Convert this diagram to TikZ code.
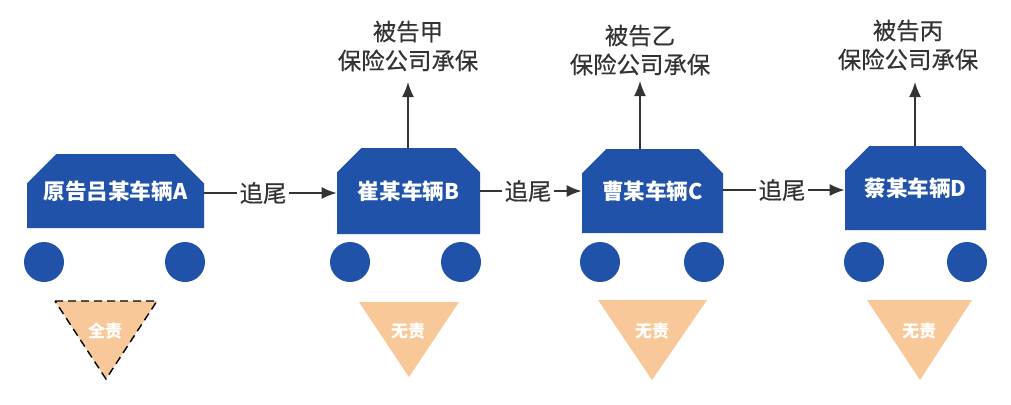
\documentclass[tikz,border=0pt]{standalone}
\usepackage{fontspec}
\setmainfont{Noto Sans CJK SC}
\newfontfamily\heavy[FakeBold=0.4]{Noto Sans CJK SC}
\usepackage{tikz}
\usetikzlibrary{shapes.misc,arrows.meta}
\definecolor{carblue}{HTML}{1F52A8}
\definecolor{duty}{HTML}{F8C899}
\definecolor{ink}{HTML}{333333}
\tikzstyle{car}=[chamfered rectangle,chamfered rectangle corners={north west,north east},chamfered rectangle xsep=7pt,chamfered rectangle ysep=7pt,fill=carblue,inner sep=0pt,text=white,font=\fontsize{10.8}{13}\selectfont\bfseries]
\tikzstyle{wheel}=[circle,fill=carblue,inner sep=0pt,minimum size=20pt]
\tikzstyle{tag}=[ink,font=\heavy\fontsize{11.7}{14.5}\selectfont,inner sep=1pt]
\tikzstyle{insurer}=[ink,font=\heavy\fontsize{11.7}{14.5}\selectfont,align=center,inner sep=0pt]
\tikzstyle{blame}=[text=white,font=\fontsize{8.5}{10}\selectfont\bfseries,inner sep=0pt]
\tikzstyle{arr}=[ink,line width=0.8pt,-{Latex[length=7.5pt,width=6pt]}]
\tikzstyle{lin}=[ink,line width=0.8pt]

\begin{document}
\begin{tikzpicture}[x=0.5pt,y=-0.5pt]
	\useasboundingbox (0,0) rectangle (1011,404);
	% cars
	\node [car,chamfered rectangle xsep=9.5pt,chamfered rectangle ysep=9.5pt,minimum width=88.5pt,minimum height=37pt] (A) at (115.5,191) {原告吕某车辆A};
	\node [car,minimum width=71.5pt,minimum height=43pt] (B) at (408.5,191) {崔某车辆B};
	\node [car,minimum width=70.5pt,minimum height=42pt] (C) at (652.5,191) {曹某车辆C};
	\node [car,minimum width=70.5pt,minimum height=42pt] (D) at (915.5,188) {蔡某车辆D};
	% wheels
	\node [wheel] (a1) at (44,262) {};
	\node [wheel] (a2) at (185,262) {};
	\node [wheel] (b1) at (350,262) {};
	\node [wheel] (b2) at (461,262) {};
	\node [wheel] (c1) at (600,262) {};
	\node [wheel] (c2) at (704,262) {};
	\node [wheel] (d1) at (864,262) {};
	\node [wheel] (d2) at (967,262) {};
	% liability
	\fill [duty] (55,301) -- (157,301) -- (106,379) -- cycle;
	\draw [line width=0.7pt,dash pattern=on 4pt off 2.5pt] (55,301) -- (157,301) -- (106,379) -- cycle;
	\fill [duty] (359,302) -- (459,302) -- (409,377) -- cycle;
	\fill [duty] (598,300) -- (707,300) -- (652,380) -- cycle;
	\fill [duty] (867,300) -- (972,300) -- (920,380) -- cycle;
	\node [blame] (la) at (105,331) {全责};
	\node [blame] (lb) at (408,331) {无责};
	\node [blame] (lc) at (652,331) {无责};
	\node [blame] (ld) at (919,331) {无责};
	% rear-end labels
	\node [tag] (t1) at (263,193) {追尾};
	\node [tag] (t2) at (528,191) {追尾};
	\node [tag] (t3) at (782,190) {追尾};
	\draw [lin] (t1 -| A.east) -- (t1);
	\draw [arr] (t1) -- (t1 -| B.west);
	\draw [lin] (t2 -| B.east) -- (t2);
	\draw [arr] (t2) -- (t2 -| C.west);
	\draw [lin] (t3 -| C.east) -- (t3);
	\draw [arr] (t3) -- (t3 -| D.west);
	% insurers
	\node [insurer] (ib) at (408,46) {被告甲\\保险公司承保};
	\node [insurer] (ic) at (640,50) {被告乙\\保险公司承保};
	\node [insurer] (id) at (908,45) {被告丙\\保险公司承保};
	\coordinate (eb) at (408,82);
	\coordinate (ec) at (640,81);
	\coordinate (ed) at (915,82);
	\draw [arr] (eb |- B.north) -- (eb);
	\draw [arr] (ec |- C.north) -- (ec);
	\draw [arr] (ed |- D.north) -- (ed);
\end{tikzpicture}
\end{document}
